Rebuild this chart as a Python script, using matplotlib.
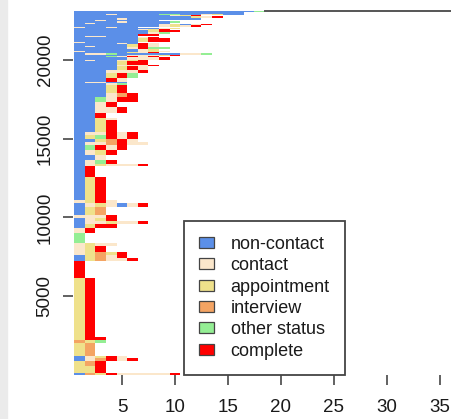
import numpy as np
import matplotlib.pyplot as plt
from matplotlib.colors import ListedColormap
from matplotlib.patches import Patch, Rectangle

plt.rcParams['font.family'] = ['Liberation Sans', 'DejaVu Sans']

# status of each call attempt
states = ['non-contact', 'contact', 'appointment', 'interview', 'other status', 'complete']
codes = 'NCAIOX'
state_colors = ['#5b8fe8', '#fbe7cb', '#efe18b', '#f4a463', '#94ee94', '#ff0000']

# sequences of call outcomes (one letter per attempt), sorted from bottom to top
seq_paths = [
    'NIAXCCCCCX', 'AAX', 'AIX', 'NCIXCX', 'NCAXC', 'AI', 'IAO', 'AXX',
    'AX', 'X', 'NAICCX', 'NAICX', 'CAIAX', 'CAX', 'CACC', 'O',
    'CX', 'NAXX', 'NCCACCX', 'NCAX', 'CCCX', 'NAI', 'NCACNCX', 'CAXC',
    'NAX', 'NX', 'NCACCCX', 'NCOX', 'NNC', 'NCAX', 'NOXCX', 'NCCIXCC',
    'NNAIXC', 'NAOXCX', 'NCCXCX', 'NNAX', 'NNAC', 'NNX', 'NNCCX', 'NNCX',
    'NNOCXX', 'NNNCIX', 'NNNAX', 'NNNCO', 'NCCNN', 'NNNXC', 'NNNAXO', 'NNNCCCX',
    'NNNNAXC', 'NNNNCCCX', 'NNNNAXX', 'NCNNCAX', 'NNNNNCCCX', 'NNNOCXCX',
    'NNNNNCCCAX', 'NCCONNNNNNCCO', 'NNNNNACX', 'CNNNNNCAC', 'NNNNNNCA', 'NNNNNCXOO',
    'NCNNNAXC', 'NNNNNAXC', 'NNNNCNXC', 'CNNNNN', 'NNNNNNAXX', 'NNNNNNCX',
    'NCCNNN', 'NNNNNNXX', 'NNNNNNNCO', 'NNNNNNNAXX', 'NNNNNNCAX', 'NNNNNNNNCA',
    'CNNCNN', 'NNNNNNNNCACX', 'NNNNNNNNCANCX', 'NCNNNNNNN', 'NNNNCNNNNO', 'NNCNNNNN',
    'NNNNCNNNNNNN', 'NNNNNNNNNNNACX', 'NNNNNNNNNCAX', 'NNNCNNNNOONNCANN',
    'NNNNNNNNNNNNNNNN', 'NNNNNNNNNNNNNNNNNO',
]
seq_counts = [
    120, 450, 320, 190, 130, 830, 190, 190,
    3750, 1080, 190, 190, 190, 380, 190, 640,
    320, 250, 190, 190, 190, 510, 250, 190,
    1430, 700, 130, 250, 320, 320, 320, 190,
    190, 250, 190, 760, 130, 320, 380, 320,
    320, 250, 510, 130, 60, 250, 320, 190,
    250, 100, 250, 70, 130, 70,
    100, 100, 100, 70, 130, 100,
    70, 100, 100, 60, 230, 100,
    60, 100, 100, 130, 70, 100,
    60, 100, 100, 70, 100, 60,
    100, 130, 70, 100,
    100, 70,
]

max_len = max(len(p) for p in seq_paths)
grid = np.full((len(seq_paths), max_len), np.nan)
for i, p in enumerate(seq_paths):
    for j, ch in enumerate(p):
        grid[i, j] = codes.index(ch)

y_edges = np.concatenate([[0], np.cumsum(seq_counts)])
x_edges = np.arange(max_len + 1) + 0.5
x_max = 36.04

fig = plt.figure(figsize=(4.51, 4.19), dpi=100)
fig.patches.append(Rectangle((0, 0), 7 / 451, 1, transform=fig.transFigure,
                             color='#ebebeb', zorder=0))
ax = fig.add_axes([73.2 / 451, 44 / 419, 1 - 73.2 / 451, 364 / 419])

ax.pcolormesh(x_edges, y_edges, np.ma.masked_invalid(grid),
              cmap=ListedColormap(state_colors), vmin=-0.5, vmax=5.5, zorder=1)

ax.set_xlim(0.4, x_max)
ax.set_ylim(0, y_edges[-1])
for side in ['left', 'right', 'bottom']:
    ax.spines[side].set_visible(False)
ax.spines['top'].set_bounds(len(seq_paths[-1]) + 0.5, x_max)
ax.spines['top'].set_color('#555555')
ax.spines['top'].set_linewidth(1.4)

ax.set_xticks(range(5, 40, 5))
ax.set_yticks([5000, 10000, 15000, 20000])
ax.tick_params(axis='both', length=7.5, width=1.3, color='#555555',
               labelsize=13.5, labelcolor='#1a1a1a')
ax.tick_params(axis='x', pad=9.8)
ax.tick_params(axis='y', pad=6.6, labelrotation=90)
for lbl in ax.get_yticklabels():
    lbl.set_va('center')

handles = [Patch(facecolor=c, edgecolor='#444444', linewidth=0.9) for c in state_colors]
leg = ax.legend(handles, states, loc='lower left',
                bbox_to_anchor=(184 / 451, 44 / 419), bbox_transform=fig.transFigure,
                fontsize=13, frameon=True, fancybox=False, framealpha=1,
                edgecolor='#444444', borderpad=0.85, labelspacing=0.24,
                handlelength=0.83, handleheight=0.55, handletextpad=0.9,
                borderaxespad=0)
leg.get_frame().set_linewidth(1.3)
for t in leg.get_texts():
    t.set_color('#1a1a1a')

fig.savefig('out.png', dpi=100)
